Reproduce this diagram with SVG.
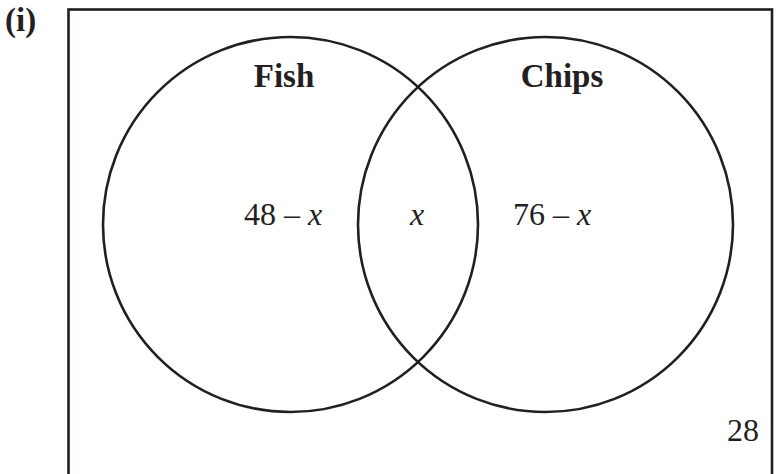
<svg xmlns="http://www.w3.org/2000/svg" width="776" height="474" viewBox="0 0 776 474">
<style>
.ln{fill:none;stroke:#231f20;stroke-width:2.6}
.t{font-family:"Liberation Serif","Times New Roman",serif;fill:#231f20}
.b{font-weight:bold;font-size:33px}
.n{font-size:32px}
.i{font-style:italic}
</style>
<rect width="776" height="474" fill="#fff"/>
<text class="t b" x="5" y="31" font-size="30">(i)</text>
<g id="universe"><rect class="ln" x="68.5" y="9.5" width="703.5" height="470"/></g>
<g id="fish"><circle class="ln" cx="290.5" cy="224.5" r="187.5"/><text class="t b" x="284" y="87" text-anchor="middle">Fish</text></g>
<g id="chips"><circle class="ln" cx="545.5" cy="224.5" r="187.5"/><text class="t b" x="562" y="87" text-anchor="middle">Chips</text></g>
<g id="labels">
<text class="t n" x="244" y="225">48 – <tspan class="i">x</tspan></text>
<text class="t n i" x="417" y="225" text-anchor="middle">x</text>
<text class="t n" x="513" y="225">76 – <tspan class="i">x</tspan></text>
<text class="t n" x="727" y="441">28</text>
</g>
</svg>
